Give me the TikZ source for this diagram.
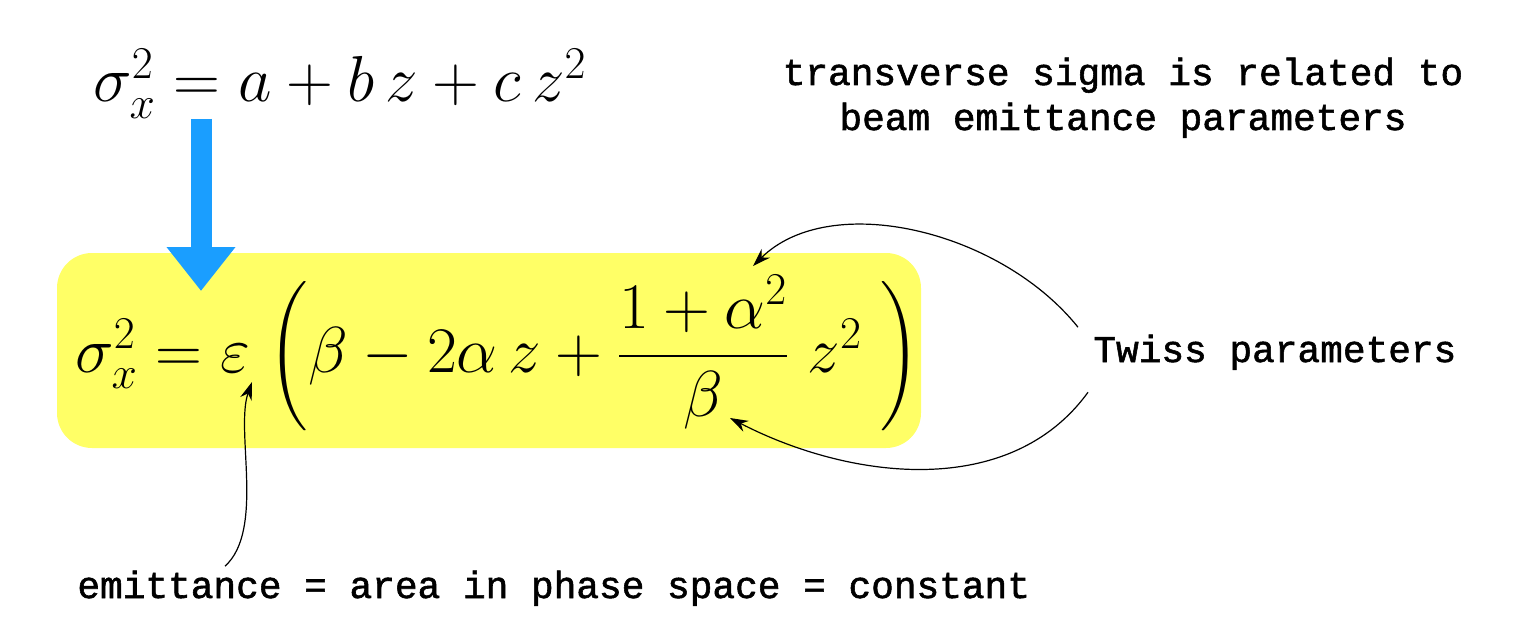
\RequirePackage{fix-cm}
\documentclass[tikz,border=0pt]{standalone}
\usepackage{amsmath}
\usepackage{fontspec}
\newfontfamily\notefont{Liberation Mono}[FakeBold=1.5]
\usetikzlibrary{arrows.meta}
\definecolor{hilite}{RGB}{255,255,102}
\definecolor{flowblue}{RGB}{26,158,255}
\tikzset{
  eqn/.style={inner sep=0pt, font=\fontsize{32.5}{39}\selectfont},
  note/.style={inner sep=0pt, align=center, font=\fontsize{18.9}{22.5}\selectfont\notefont},
  pointer/.style={-{Stealth[length=9pt,width=6pt]}, line width=0.6pt}
}
\begin{document}
\begin{tikzpicture}[x=0.5pt,y=-0.5pt]
  \useasboundingbox (0,0) rectangle (1538,642);
  % highlighted box behind the Twiss form
  \fill[hilite, rounded corners=17.5pt] (57,253) rectangle (921,448);
  \node[eqn, anchor=base west] (fitq) at (93,102) {$\sigma_x^2 = a + b\,z + c\,z^2$};
  \node[eqn, anchor=base west] (twissq) at (75,372)
    {$\sigma_x^2 = \varepsilon\;\bigg(\beta - 2\alpha\,z + \dfrac{1+\alpha^2}{\beta}\;z^2\;\bigg)$};
  \node[note, anchor=base] (relnote) at (1123,130) {transverse sigma is related to\\beam emittance parameters};
  \node[note, anchor=base west] (twiss) at (1093,362) {Twiss parameters};
  \node[note, anchor=base west] (emit) at (77,598) {emittance = area in phase space = constant};
  % target points in the formula
  \coordinate (alpha) at (753,266);
  \coordinate (beta) at (730,418);
  \coordinate (eps) at (252,382);
  \coordinate (fitbot) at (201,119);
  \coordinate (twtop) at (201,291);
  \draw[flowblue, line width=10.5pt, -{Triangle[width=33pt,length=22pt]}] (fitbot) -- (twtop);
  \draw[pointer] (twiss.north west) ++(-15,-7) .. controls (1000,230) and (830,190) .. (alpha);
  \draw[pointer] (twiss.south west) ++(-5,22) .. controls (1010,500) and (850,480) .. (beta);
  \draw[pointer] (emit.north west) ++(148,-4) .. controls (265,530) and (235,430) .. (eps);
\end{tikzpicture}
\end{document}
